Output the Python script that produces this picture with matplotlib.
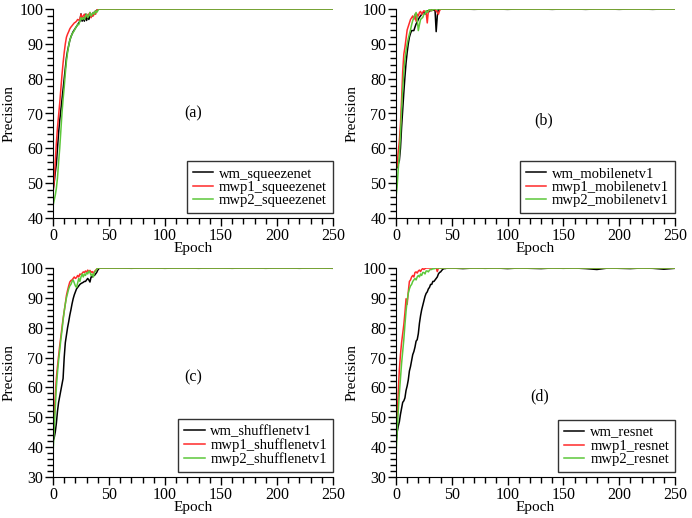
import matplotlib
matplotlib.use("Agg")
import matplotlib.pyplot as plt
from matplotlib.ticker import MultipleLocator

plt.rcParams['font.family'] = ['Liberation Serif', 'DejaVu Serif']
plt.rcParams['font.size'] = 11

# epochs: dense 0..45, then every 10 epochs 50..250
epochs = list(range(0, 46)) + list(range(50, 251, 10))

# ---- (a) squeezenet ----
wm_squeezenet = [48, 50, 53, 55.5, 60, 64.5, 68, 71, 74, 77,
                 80, 83, 86, 88, 89.5, 91, 92, 92.8, 93.5, 94,
                 94.5, 95, 95.5, 96, 96.5, 98.6, 96.5, 97.5, 96.5, 98.5,
                 96.7, 98, 97, 98, 98.5, 98, 99, 98.5, 99.5, 99.5,
                 100, 100, 100, 100, 100, 100] + [100] * 21
mwp1_squeezenet = [47, 50.5, 56, 61.5, 66, 69.5, 73, 77, 81, 84.5,
                   87.5, 90, 91.9, 92.8, 93.5, 94.3, 94.8, 95.2, 95.6, 96,
                   96.2, 96.5, 97, 96.8, 97.1, 98.5, 97.5, 98, 98.5, 97.5,
                   98.5, 98, 98.5, 99, 97.5, 98.5, 98, 99, 98.5, 99.5,
                   100, 100, 100, 100, 100, 100] + [100] * 21
mwp2_squeezenet = [43.5, 45, 46.5, 48.5, 51.5, 56, 60, 65, 70, 74,
                   77.5, 81.5, 85, 87.5, 89.5, 91, 92, 92.8, 93.3, 93.8,
                   94.5, 95, 95.5, 95.5, 96.5, 97.5, 97, 97.5, 97, 98,
                   98.5, 97.5, 98, 99, 98, 98.5, 99, 98.5, 99.5, 99,
                   99.5, 100, 100, 100, 100, 100] + [100] * 21

# ---- (b) mobilenetv1 ----
wm_mobilenetv1 = [54, 54.5, 55.5, 56.5, 60, 66, 71, 76, 80.5, 84.5,
                  87.5, 90, 91.9, 93, 93.8, 93.8, 93.8, 94.8, 95.7, 96.3,
                  97, 97.6, 98, 98.5, 99, 99, 98.5, 99, 99.5, 99,
                  99.5, 99.5, 99.7, 99.7, 99.7, 99.5, 93.5, 98, 100, 100,
                  100, 100, 100, 100, 100, 100] + \
                 [100, 100, 99.9, 100, 100, 99.9, 100, 100, 100, 99.9, 100,
                  100, 99.9, 100, 100, 99.9, 100, 100, 99.9, 100, 100]
mwp1_mobilenetv1 = [54, 55, 59, 62, 67, 74, 82, 87, 89, 91.5,
                    94, 95, 96, 97, 97.5, 98, 97, 98.5, 96.5, 98.5,
                    98, 99, 99.3, 98.5, 99, 99.5, 99.3, 99, 96, 99.5,
                    99.5, 99.8, 99.5, 99.8, 100, 99.8, 99.5, 99, 98.5, 99.5,
                    100, 100, 100, 100, 100, 100] + [100] * 21
mwp2_mobilenetv1 = [46, 49, 54, 58, 64, 71, 77, 82, 85.5, 88,
                    90, 91.5, 92.8, 94, 95.5, 96.7, 97.5, 98.3, 99, 97,
                    93.8, 95.5, 97, 97.3, 97.6, 98.5, 98.5, 99.5, 99, 99.5,
                    100, 99.8, 99.5, 99.8, 100, 100, 100, 100, 100, 100,
                    100, 100, 100, 100, 100, 100] + [100] * 21

# ---- (c) shufflenetv1 ----
wm_shufflenetv1 = [42, 43, 45, 48, 52, 55, 57, 59, 61, 63,
                   70, 75, 77.5, 80, 82, 84.2, 86, 88, 89.7, 91,
                   92, 93, 93.5, 94, 94.5, 94.8, 95, 95.2, 95.5, 95.5,
                   96, 96.5, 96, 95.3, 97, 97, 97.5, 97.5, 98, 98.5,
                   99.3, 99.8, 100, 100, 100, 100] + \
                  [100, 100, 99.9, 100, 100, 99.9, 100, 100, 99.9, 100, 100,
                   99.9, 100, 100, 99.9, 100, 100, 99.9, 100, 100, 99.9]
mwp1_shufflenetv1 = [42, 50, 57, 63, 67, 70.5, 74, 77, 80, 83,
                     85.5, 88, 90.8, 92.5, 94, 95.3, 95.8, 96, 96.5, 97,
                     96.5, 96.8, 97.5, 97, 98, 97.8, 98.2, 98.7, 98.5, 99,
                     98.5, 99.3, 98.8, 99.2, 98.5, 98.8, 98.3, 98.8, 99.2, 99.6,
                     100, 100, 100, 100, 100, 100] + [100] * 21
mwp2_shufflenetv1 = [38, 45, 53, 60, 65, 69, 72.5, 76, 79, 82.5,
                     85.5, 88, 90, 91.5, 93, 94, 94.5, 95.5, 96, 95,
                     94, 93.5, 95, 96.5, 95.5, 97, 98, 97, 98, 97.5,
                     98.5, 98, 99, 98.5, 97.5, 98, 97, 98.5, 99, 99.5,
                     100, 100, 100, 100, 100, 100] + [100] * 21

# ---- (d) resnet ----
wm_resnet = [41, 45, 47, 48.5, 51, 53, 55, 55.5, 56.5, 59,
             60.5, 62.5, 65.5, 67, 69, 71, 72, 73.5, 75.5, 76,
             78, 81.5, 84, 86, 87.5, 89, 90.5, 91.5, 92, 93,
             93.5, 94.5, 94.5, 95.5, 95.5, 96, 96.5, 97, 98, 98.5,
             98.7, 99.2, 99.6, 99.8, 99.8, 99.9] + \
            [100, 99.8, 100, 99.9, 100, 99.8, 100, 99.9, 99.8, 100, 99.9,
             100, 99.8, 99.5, 100, 99.9, 99.8, 100, 99.9, 99.6, 99.9]
mwp1_resnet = [42, 50, 58, 66, 71, 75, 78, 81, 85, 89.7,
               87.8, 92, 95.5, 96, 97, 97.5, 97, 98.5, 98.7, 98.3,
               99, 99.3, 98.8, 99.5, 99.8, 99.5, 99.8, 100, 100, 100,
               100, 100, 100, 100, 100, 100, 100, 98.8, 100, 100,
               100, 100, 100, 100, 100, 100] + [100] * 21
mwp2_resnet = [37, 45, 52, 58, 63, 68, 72, 76, 81, 85.5,
               89, 91.5, 93, 94, 94.5, 95.5, 96, 96.5, 96, 97,
               97.5, 97, 98, 97.5, 98.5, 98.5, 98, 99, 99, 98.7,
               99.3, 99.5, 99.5, 99.8, 99.7, 100, 100, 100, 100, 100,
               100, 100, 100, 100, 100, 100] + [100] * 21

panels = [
    ("(a)", (125, 70), (40, 100), [wm_squeezenet, mwp1_squeezenet, mwp2_squeezenet],
     ["wm_squeezenet", "mwp1_squeezenet", "mwp2_squeezenet"]),
    ("(b)", (132, 68), (40, 100), [wm_mobilenetv1, mwp1_mobilenetv1, mwp2_mobilenetv1],
     ["wm_mobilenetv1", "mwp1_mobilenetv1", "mwp2_mobilenetv1"]),
    ("(c)", (125, 63.5), (30, 100), [wm_shufflenetv1, mwp1_shufflenetv1, mwp2_shufflenetv1],
     ["wm_shufflenetv1", "mwp1_shufflenetv1", "mwp2_shufflenetv1"]),
    ("(d)", (129, 57), (30, 100), [wm_resnet, mwp1_resnet, mwp2_resnet],
     ["wm_resnet", "mwp1_resnet", "mwp2_resnet"]),
]

colors = ["#000000", "#ff2a2a", "#5cc83a"]

W, H = 692, 518
fig = plt.figure(figsize=(W / 100, H / 100), dpi=100)
rects = [(53, 9, 333, 218), (396, 9, 675, 218), (53, 268, 333, 477), (396, 268, 675, 477)]

for (label, tpos, ylim, series, names), (l, t, r, b) in zip(panels, rects):
    ax = fig.add_axes([l / W, 1 - b / H, (r - l) / W, (b - t) / H])
    for ys, nm, c in zip(series, names, colors):
        ax.plot(epochs, ys, color=c, lw=1.1, label=nm)
    ax.set_xlim(0, 250)
    ax.set_ylim(*ylim)
    ax.xaxis.set_major_locator(MultipleLocator(50))
    ax.xaxis.set_minor_locator(MultipleLocator(10))
    ax.yaxis.set_major_locator(MultipleLocator(10))
    ax.yaxis.set_minor_locator(MultipleLocator(2))
    ax.spines['top'].set_visible(False)
    ax.spines['right'].set_visible(False)
    ax.tick_params(which='major', direction='out', length=6, width=1, labelsize=11.5, pad=1)
    ax.tick_params(which='minor', direction='out', length=4, width=1)
    ax.set_xlabel("Epoch", fontsize=11, labelpad=-1)
    ax.set_ylabel("Precision", fontsize=11, labelpad=3)
    ax.text(tpos[0], tpos[1], label, fontsize=11.5, ha='center', va='center')
    leg = ax.legend(loc='lower right', bbox_to_anchor=(1.0, 0.025), borderaxespad=0,
                    prop={'size': 10.5}, frameon=True, fancybox=False, framealpha=1,
                    edgecolor='#333333', handlelength=1.4, labelspacing=0.0,
                    borderpad=0.4, handletextpad=0.4)
    leg.get_frame().set_linewidth(1.0)

fig.savefig("out.png", dpi=100)
